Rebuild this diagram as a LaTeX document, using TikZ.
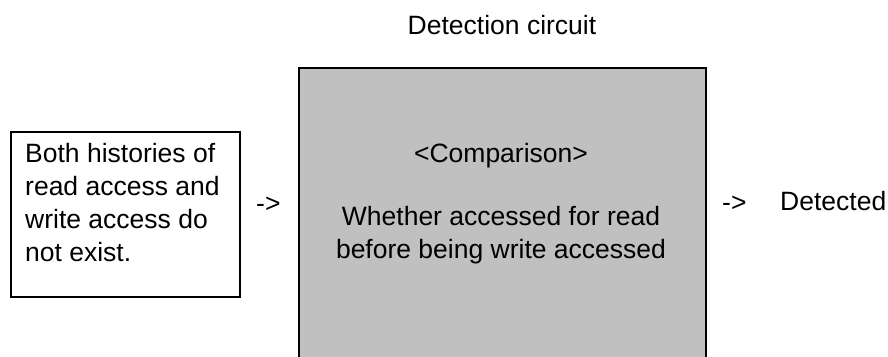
\documentclass[tikz,border=0pt]{standalone}
\usepackage{fontspec}
\setmainfont{Liberation Sans}
\begin{document}
\begin{tikzpicture}[x=1pt, y=-1pt,
	lbl/.style={font=\fontsize{26.5}{33}\selectfont, inner sep=0pt},
	frame/.style={draw, line width=1.6pt, inner sep=0pt, anchor=north west}]
		\useasboundingbox (0,0) rectangle (888,356);
		\node[lbl, anchor=base] (title) at (502,34) {Detection circuit};

		% input condition
		\node[frame, minimum width=229pt, minimum height=165pt] (hist) at (10,131) {};
		\node[lbl, anchor=base west, align=left] (histtxt) at (25,261) {Both histories of\\read access and\\write access do\\not exist.};
		\node[lbl, anchor=base west] (arrin) at (256,212) {->};

		% comparison block
		\node[frame, fill={rgb,255:red,192;green,192;blue,192}, minimum width=407pt, minimum height=292pt] (cmp) at (298,67) {};
		\node[lbl, anchor=base] (cmphead) at (501,162) {<Comparison>};
		\node[lbl, anchor=base, align=center] (cmptxt) at (501,258) {Whether accessed for read\\before being write accessed};

		% output
		\node[lbl, anchor=base west] (arrout) at (722,211) {->};
		\node[lbl, anchor=base west] (det) at (780,210) {Detected};
	\end{tikzpicture}
\end{document}
